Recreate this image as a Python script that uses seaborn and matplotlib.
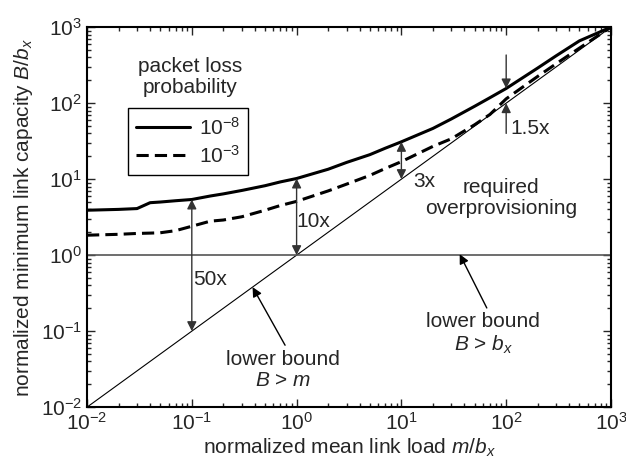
import numpy as np
import pandas as pd
import matplotlib
matplotlib.use("Agg")
import matplotlib.pyplot as plt
import matplotlib.ticker as mticker
import seaborn as sns

# normalized mean link load m/b_x
load = [0.01, 0.02, 0.03, 0.04, 0.05, 0.07, 0.1, 0.15, 0.2, 0.3, 0.5, 0.7,
        1, 2, 3, 5, 7, 10, 20, 30, 50, 70, 100, 200, 300, 500, 1000]
# normalized minimum link capacity B/b_x for each loss probability
cap_1e8 = [3.9, 4.0, 4.1, 4.9, 5.0, 5.2, 5.4, 6.0, 6.4, 7.1, 8.2, 9.2,
           10.2, 13.5, 16.6, 21, 25.5, 31, 46.5, 62, 91, 118, 156, 290, 420, 660, 1000]
cap_1e3 = [1.83, 1.88, 1.93, 1.95, 1.97, 2.1, 2.4, 2.8, 2.9, 3.2, 3.9, 4.5,
           5.1, 7.0, 8.6, 11.2, 13.8, 17, 27, 34, 52, 71, 114, 225, 330, 530, 1000]
labels = ["$10^{-8}$", "$10^{-3}$"]
bound_x = [0.01, 1000]

sns.set_style("ticks")
plt.rcParams["font.family"] = ["Liberation Sans", "DejaVu Sans"]
plt.rcParams["mathtext.fontset"] = "custom"
plt.rcParams["mathtext.rm"] = "Liberation Sans"
plt.rcParams["mathtext.it"] = "Liberation Sans:italic"
plt.rcParams["mathtext.bf"] = "Liberation Sans:bold"

fig = plt.figure(figsize=(6.26, 4.68), dpi=100)
ax = fig.add_axes([0.139, 0.130, 0.837, 0.812])

df = pd.DataFrame({"load": load * 2,
                   "cap": cap_1e8 + cap_1e3,
                   "loss": [labels[0]] * len(load) + [labels[1]] * len(load)})
sns.lineplot(data=df, x="load", y="cap", style="loss", hue="loss",
             palette=["black", "black"], dashes=[(1, 0), (4, 2)],
             linewidth=2.2, ax=ax, legend=False)

# lower bounds
ax.plot(bound_x, bound_x, color="black", lw=0.8)
ax.plot(bound_x, [1, 1], color="#555555", lw=1.2)

ax.set_xscale("log")
ax.set_yscale("log")
ax.set_xlim(1e-2, 1e3)
ax.set_ylim(1e-2, 1e3)
ax.xaxis.set_major_formatter(mticker.LogFormatterMathtext())
ax.yaxis.set_major_formatter(mticker.LogFormatterMathtext())
ax.xaxis.set_minor_locator(mticker.LogLocator(subs=np.arange(2, 10), numticks=20))
ax.yaxis.set_minor_locator(mticker.LogLocator(subs=np.arange(2, 10), numticks=20))
ax.xaxis.set_minor_formatter(mticker.NullFormatter())
ax.yaxis.set_minor_formatter(mticker.NullFormatter())
ax.tick_params(which="both", direction="in", top=True, right=True, labelsize=15, width=1)
ax.tick_params(which="major", length=6)
ax.tick_params(which="minor", length=3)
for s in ax.spines.values():
    s.set_linewidth(1.5)
    s.set_color("black")

ax.set_xlabel("normalized mean link load $m/b_x$", fontsize=15, labelpad=2)
ax.set_ylabel("normalized minimum link capacity $B/b_x$", fontsize=15, labelpad=4)

# legend
handles = [plt.Line2D([], [], color="black", lw=2.2),
           plt.Line2D([], [], color="black", lw=2.2, dashes=(4, 2))]
leg = ax.legend(handles, labels, loc="upper left", bbox_to_anchor=(0.078, 0.787),
                borderaxespad=0, fontsize=15, handlelength=2.6, handletextpad=0.4,
                fancybox=False, framealpha=1, edgecolor="black", borderpad=0.4,
                labelspacing=0.3)
leg.get_frame().set_linewidth(1.0)
ax.text(0.197, 0.868, "packet loss\nprobability", transform=ax.transAxes,
        ha="center", va="center", fontsize=15, linespacing=1.15)


def cap_at(x, ys):
    return 10 ** np.interp(np.log10(x), np.log10(load), np.log10(ys))


arrow2 = dict(arrowstyle="<|-|>", color="#333333", lw=1, mutation_scale=14,
              shrinkA=0, shrinkB=0)
arrow1 = dict(arrowstyle="-|>", color="#333333", lw=1, mutation_scale=14,
              shrinkA=0, shrinkB=0)

# overprovisioning arrows
for xv in [0.1, 1, 10]:
    ax.annotate("", xy=(xv, cap_at(xv, cap_1e8)), xytext=(xv, xv), arrowprops=arrow2)
ax.annotate("", xy=(100, cap_at(100, cap_1e8)), xytext=(100, 430), arrowprops=arrow1)
ax.annotate("", xy=(100, 100), xytext=(100, 40), arrowprops=arrow1)

ax.text(0.235, 0.337, "50x", transform=ax.transAxes, ha="center", va="center", fontsize=15)
ax.text(0.431, 0.489, "10x", transform=ax.transAxes, ha="center", va="center", fontsize=15)
ax.text(0.643, 0.595, "3x", transform=ax.transAxes, ha="center", va="center", fontsize=15)
ax.text(0.845, 0.734, "1.5x", transform=ax.transAxes, ha="center", va="center", fontsize=15)
ax.text(0.79, 0.55, "required\noverprovisioning", transform=ax.transAxes,
        ha="center", va="center", fontsize=15, linespacing=1.15)

# lower bound labels
ax.text(0.374, 0.097, "lower bound\n$B$ > $m$", transform=ax.transAxes,
        ha="center", va="center", fontsize=15, linespacing=1.15)
ax.text(0.756, 0.192, "lower bound\n$B$ > $b_x$", transform=ax.transAxes,
        ha="center", va="center", fontsize=15, linespacing=1.15)
arrow_k = dict(arrowstyle="-|>", color="black", lw=1, mutation_scale=14,
               shrinkA=0, shrinkB=0)
ax.annotate("", xy=(0.38, 0.38), xytext=(0.378, 0.163), textcoords="axes fraction",
            arrowprops=arrow_k)
ax.annotate("", xy=(36, 1.03), xytext=(0.763, 0.261), textcoords="axes fraction",
            arrowprops=arrow_k)

fig.savefig("out.png", dpi=100)
